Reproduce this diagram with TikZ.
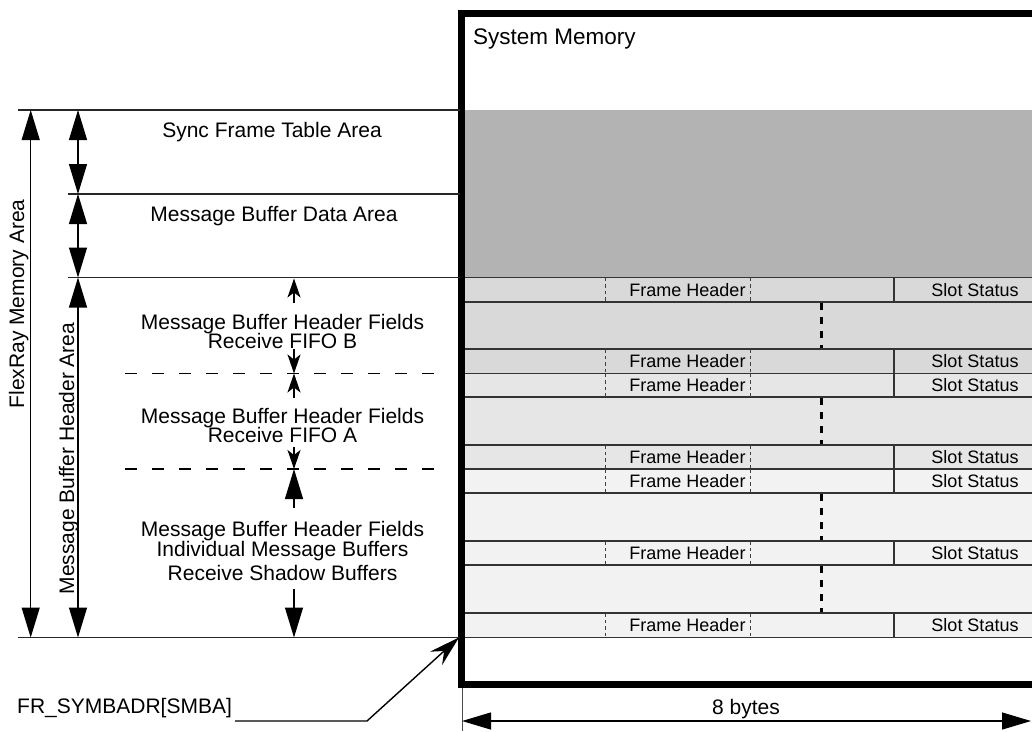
\documentclass[tikz,border=0pt]{standalone}
\usepackage{fontspec}
\setmainfont{Liberation Sans}
\usetikzlibrary{arrows.meta}
\definecolor{darkfill}{HTML}{B3B3B3}
\definecolor{rowB}{HTML}{D9D9D9}
\definecolor{rowA}{HTML}{E6E6E6}
\definecolor{rowC}{HTML}{F2F2F2}
\begin{document}
\begin{tikzpicture}[x=1pt,y=-1pt,
  lbl/.style={font=\fontsize{21}{21}\selectfont, inner sep=0pt, anchor=base},
  cell/.style={font=\fontsize{18}{18}\selectfont, inner sep=0pt, anchor=center},
  thinline/.style={line width=1.3pt, draw=black!85},
  rowline/.style={line width=1.1pt, draw=black!80},
  finedash/.style={line width=0.9pt, draw=black!75, dash pattern=on 3.5pt off 3pt},
  bolddash/.style={line width=3pt, draw=black, dash pattern=on 7pt off 7pt},
  sepdash/.style={line width=1.1pt, draw=black, dash pattern=on 12pt off 15pt},
  dimboth/.style={line width=1.2pt, {Triangle[length=30pt,width=18pt]}-{Triangle[length=30pt,width=18pt]}},
  bigtip/.style={line width=1.2pt, -{Triangle[length=30pt,width=18pt]}},
  smalltip/.style={line width=1.3pt, -{Stealth[length=19pt,width=13pt,inset=5pt]}},
  ptrtip/.style={line width=1.4pt, -{Stealth[length=31pt,width=18pt,inset=11pt]}},
  bytestip/.style={line width=1.2pt, {Triangle[length=29pt,width=17pt]}-{Triangle[length=29pt,width=17pt]}}
]
\useasboundingbox (0,0) rectangle (1032,731);
\clip (0,0) rectangle (1032,731);

% ---------- memory fills ----------
\fill[darkfill] (461.5,110) rectangle (1045,277.5);
\foreach \t/\b/\c in {302/349/rowB, 397/445/rowA, 493/541/rowC, 565/613/rowC}{
  \fill[\c] (465,\t) rectangle (1045,\b);
  \draw[bolddash] (821,\t+1) -- (821,\b);
}
\foreach \t/\b/\c [count=\i] in {277.5/302/rowB, 349/373.5/rowB, 373.5/397/rowA, 445/469/rowA, 469/493/rowC, 541/565/rowC, 613/637.5/rowC}{
  \fill[\c] (465,\t) rectangle (1045,\b);
  \draw[rowline] (465,\t) -- (1045,\t);
  \draw[rowline] (465,\b) -- (1045,\b);
  \draw[finedash] (605.7,\t) -- (605.7,\b);
  \draw[finedash] (750,\t) -- (750,\b);
  \draw[rowline] (894,\t) -- (894,\b);
  \node[cell] (fh\i) at (687.5,{(\t+\b)/2}) {Frame Header};
  \node[cell] (ss\i) at (975,{(\t+\b)/2}) {Slot Status};
}

% ---------- system memory box ----------
\draw[line width=7pt] (461.5,13.5) rectangle (1045,684.7);
\node[font=\fontsize{22.5}{22.5}\selectfont, inner sep=0pt, anchor=base west] (sysmem) at (473,44) {System Memory};

% ---------- left horizontal boundary lines ----------
\coordinate (h1a) at (18,110);   \coordinate (h1b) at (460,110);
\coordinate (h2a) at (68,194);   \coordinate (h2b) at (460,194);
\coordinate (h3a) at (68,277.5); \coordinate (h3b) at (460,277.5);
\coordinate (h4a) at (18,637.5); \coordinate (h4b) at (460,637.5);
\draw[thinline] (h1a) -- (h1b);
\draw[thinline] (h2a) -- (h2b);
\draw[thinline] (h3a) -- (h3b);
\draw[thinline] (h4a) -- (h4b);

% dashed separators
\coordinate (d1a) at (125,373.5); \coordinate (d1b) at (446,373.5);
\coordinate (d2a) at (125,469);   \coordinate (d2b) at (446,469);
\draw[sepdash] (d1a) -- (d1b);
\draw[sepdash] (d2a) -- (d2b);

% ---------- dimension arrows ----------
\coordinate (fmT) at (30.7,110);  \coordinate (fmB) at (30.7,637.5);
\coordinate (sfT) at (78,110);    \coordinate (sfB) at (78,194);
\coordinate (mdT) at (78,194);    \coordinate (mdB) at (78,277.5);
\coordinate (mhT) at (78,277.5);  \coordinate (mhB) at (78,637.5);
\draw[dimboth] (fmT) -- (fmB);
\draw[dimboth] (sfT) -- (sfB);
\draw[dimboth] (mdT) -- (mdB);
\draw[dimboth] (mhT) -- (mhB);

\node[lbl, rotate=90] (flexray) at (24,304) {FlexRay Memory Area};
\node[lbl, rotate=90] (mbha) at (74,458.5) {Message Buffer Header Area};

% ---------- section labels ----------
\node[lbl] (sync) at (272,137.5) {Sync Frame Table Area};
\node[lbl] (mbdata) at (274,221) {Message Buffer Data Area};
\node[lbl] (fb1) at (282.5,329.3) {Message Buffer Header Fields};
\node[lbl] (fb2) at (282.5,348.3) {Receive FIFO B};
\node[lbl] (fa1) at (282.5,423.3) {Message Buffer Header Fields};
\node[lbl] (fa2) at (282.5,442.3) {Receive FIFO A};
\node[lbl] (im1) at (282.5,536.7) {Message Buffer Header Fields};
\node[lbl] (im2) at (282.5,556) {Individual Message Buffers};
\node[lbl] (im3) at (282.5,580.7) {Receive Shadow Buffers};

% middle arrows
\coordinate (bUs) at (294,303);   \coordinate (bUe) at (294,278.5);
\coordinate (bDs) at (294,349);   \coordinate (bDe) at (294,373.5);
\coordinate (aUs) at (294,398);   \coordinate (aUe) at (294,373.5);
\coordinate (aDs) at (294,447);   \coordinate (aDe) at (294,469);
\coordinate (iUs) at (294,508);   \coordinate (iUe) at (294,469);
\coordinate (iDs) at (294,589);   \coordinate (iDe) at (294,637.5);
\draw[smalltip] (bUs) -- (bUe);
\draw[smalltip] (bDs) -- (bDe);
\draw[smalltip] (aUs) -- (aUe);
\draw[smalltip] (aDs) -- (aDe);
\draw[bigtip] (iUs) -- (iUe);
\draw[bigtip] (iDs) -- (iDe);

% ---------- base address pointer ----------
\node[lbl, anchor=base west] (smba) at (17,713) {FR\_SYMBADR[SMBA]};
\coordinate (p1) at (235,721);
\coordinate (p2) at (367,721);
\coordinate (p3) at (459,637.5);
\draw[ptrtip] (p1) -- (p2) -- (p3);

% ---------- 8 bytes ----------
\coordinate (ext1) at (462,688);  \coordinate (ext2) at (462,731);
\draw[line width=1pt, draw=black!70] (ext1) -- (ext2);
\coordinate (bl) at (462,721);  \coordinate (br) at (1031,721);
\draw[bytestip] (bl) -- (br);
\node[lbl] (bytes) at (746,714) {8 bytes};
\end{tikzpicture}
\end{document}
